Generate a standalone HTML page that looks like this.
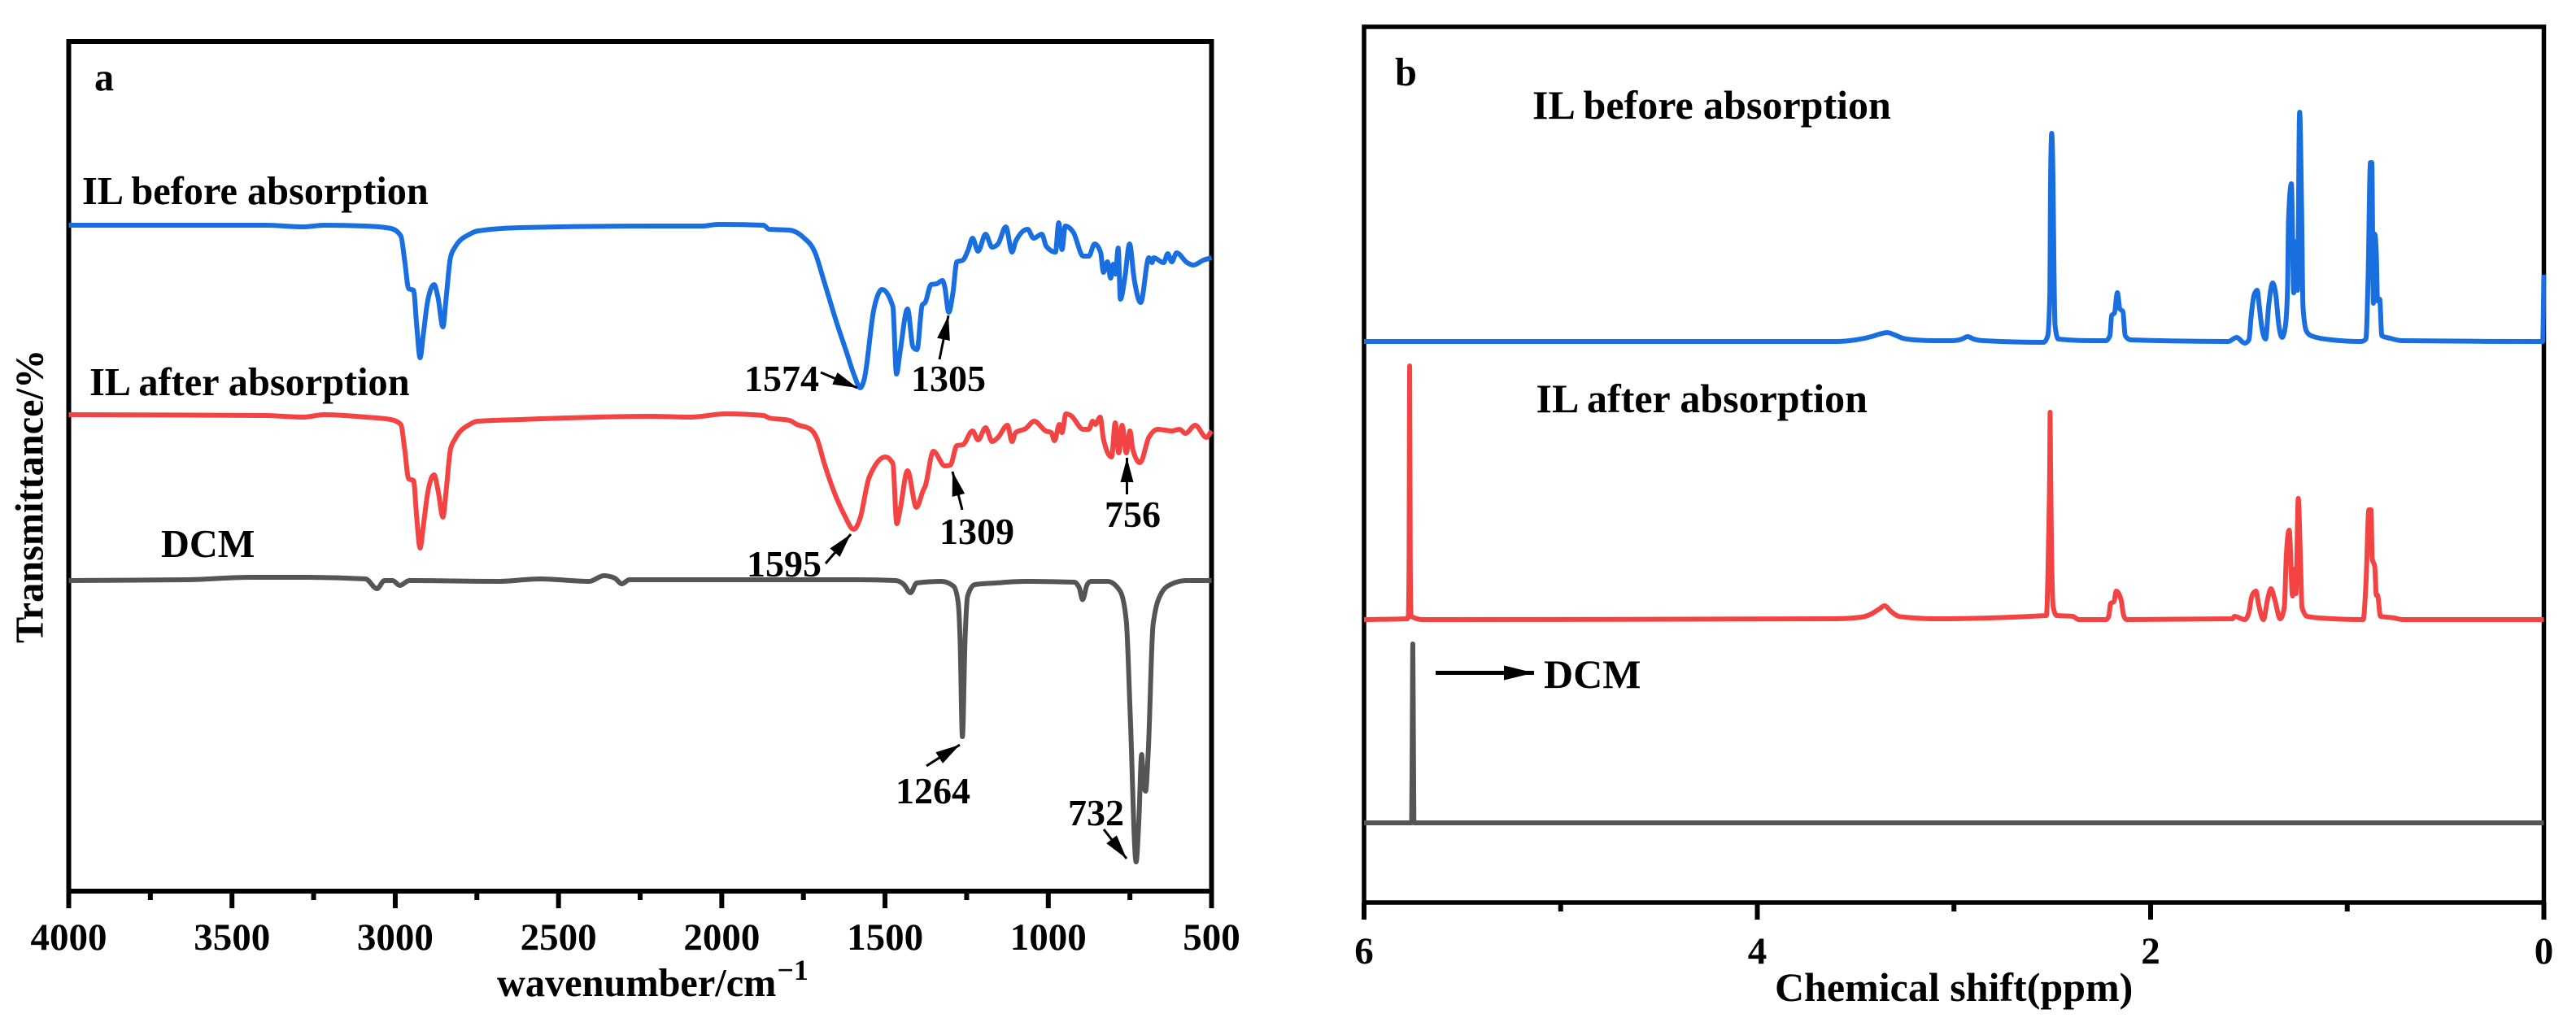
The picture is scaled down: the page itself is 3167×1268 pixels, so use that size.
<!DOCTYPE html>
<html lang="en">
<head>
<meta charset="utf-8">
<title>FTIR and NMR spectra</title>
<style>
html,body{margin:0;padding:0;background:#fff;}
svg{display:block;}
text{font-family:"Liberation Serif",serif;font-weight:bold;fill:#000;}
.tk{font-size:47px;text-anchor:middle;}
.num{font-size:46px;}
.lab{font-size:48.3px;}
.labb{font-size:50px;}
.arr{stroke:#000;stroke-width:3;fill:none;marker-end:url(#head);}
</style>
</head>
<body>
<svg id="fig" xmlns="http://www.w3.org/2000/svg" width="3167" height="1268" viewBox="0 0 3167 1268">
<defs>
<marker id="head" markerUnits="userSpaceOnUse" markerWidth="32" markerHeight="18" refX="30" refY="9" orient="auto"><path d="M0 1L30 9L0 17Z" fill="#000"/></marker>
<marker id="head2" markerUnits="userSpaceOnUse" markerWidth="38" markerHeight="20" refX="37" refY="10" orient="auto"><path d="M0 1L37 10L0 19Z" fill="#000"/></marker>
</defs>
<rect width="3167" height="1268" fill="#fff"/>

<g id="panelA">
<rect x="84.5" y="51" width="1405" height="1045" fill="none" stroke="#000" stroke-width="6"/>
<g id="axisA"></g>
<g id="seriesA"></g>
<text class="lab" x="116" y="111">a</text>
<text class="lab" x="101" y="251">IL before absorption</text>
<text class="lab" x="110" y="486">IL after absorption</text>
<text class="lab" x="198" y="685">DCM</text>
<text class="lab" x="611" y="1225">wavenumber/cm<tspan font-size="36" dx="1" dy="-20">−1</tspan></text>
<text class="lab" transform="translate(52.5 791) rotate(-90)">Transmittance/%</text>
<text class="num" x="915" y="481">1574</text>
<text class="num" x="1120" y="481">1305</text>
<text class="num" x="1155" y="669">1309</text>
<text class="num" x="1358" y="648">756</text>
<text class="num" x="918" y="709">1595</text>
<text class="num" x="1101" y="988">1264</text>
<text class="num" x="1313" y="1015">732</text>
<line class="arr" x1="1009" y1="458" x2="1054" y2="477"/>
<line class="arr" x1="1155" y1="442" x2="1166" y2="388"/>
<line class="arr" x1="1183" y1="627" x2="1171" y2="580"/>
<line class="arr" x1="1385.5" y1="608" x2="1385.5" y2="563"/>
<line class="arr" x1="1015" y1="693" x2="1046" y2="657"/>
<line class="arr" x1="1139" y1="942" x2="1180" y2="916"/>
<line class="arr" x1="1357" y1="1020" x2="1385" y2="1056"/>
</g>

<g id="panelB">
<rect x="1677" y="33" width="1450.5" height="1077" fill="none" stroke="#000" stroke-width="5.5"/>
<g id="axisB"></g>
<g id="seriesB"></g>
<text class="lab" x="1715" y="105">b</text>
<text class="labb" x="1884" y="146">IL before absorption</text>
<text class="labb" x="1888.5" y="507">IL after absorption</text>
<text class="labb" x="1898" y="846">DCM</text>
<line x1="1765" y1="827.5" x2="1886" y2="827.5" stroke="#000" stroke-width="5" style="marker-end:url(#head2)"/>
<text class="labb" x="2182" y="1231">Chemical shift(ppm)</text>
</g>
</svg>

<script>
// FTIR axis labels
const irMajorTicks = [4000, 3500, 3000, 2500, 2000, 1500, 1000, 500];
const irMinorTicks = [3750, 3250, 2750, 2250, 1750, 1250, 750];

// FTIR: wavenumber (cm-1) and stacked transmittance (a.u.)
const irBeforeWave = [4000,3397,3282,3218,3091,3013,2983,2971,2959,2944,2934,2924,2914,2901,2881,2869,2854,2844,2831,2817,2772,2747,2620,2216,2059,2012,1872,1855,1793,1750,1715,1686,1648,1618,1593,1576,1564,1534,1509,1476,1465,1454,1431,1414,1402,1386,1377,1359,1342,1324,1317,1305,1292,1280,1262,1245,1232,1215,1192,1172,1154,1130,1111,1100,1063,1045,1020,1006,978,968,958,948,923,893,876,858,840,831,819,809,801,794,786,779,766,751,737,717,692,682,677,647,634,622,607,575,556,525,500];
const irBeforeValue = [819,819,817,819,818,815,806,775,741,739,694,656,685,725,746,730,694,730,779,792,808,812,816,818,818,820,819,814,813,804,786,749,699,663,633,619,629,716,740,719,636,663,716,669,666,721,724,746,747,751,743,712,736,774,776,789,803,787,808,792,796,817,786,799,814,803,808,793,786,822,789,818,810,781,781,796,786,761,774,754,771,759,791,728,753,796,753,724,779,773,779,773,784,774,785,773,770,776,779];

const irAfterWave = [4000,3397,3282,3218,3091,3013,2983,2971,2959,2944,2934,2924,2914,2901,2881,2869,2854,2844,2831,2817,2772,2747,2620,2216,2097,1987,1872,1855,1793,1770,1728,1708,1686,1648,1625,1596,1576,1551,1534,1499,1476,1464,1454,1431,1404,1383,1377,1352,1317,1300,1280,1262,1232,1215,1192,1172,1154,1125,1111,1100,1069,1043,1008,991,981,966,958,946,931,893,876,864,856,841,831,806,795,784,774,761,750,741,719,692,664,622,598,580,550,516,500];
const irAfterValue = [586,585,583,586,583,580,574,543,507,505,458,422,449,489,512,493,460,493,543,556,574,578,580,584,583,587,585,582,579,574,568,556,526,483,463,445,459,506,521,534,526,452,469,517,472,493,498,541,523,524,548,549,566,555,570,553,558,573,553,564,569,578,566,564,554,574,564,587,585,568,568,578,574,583,556,534,576,539,573,539,566,543,527,558,568,566,568,563,573,558,566];

const irDcmWave = [4000,3636,3447,3282,3091,3056,3033,3008,2986,2957,2685,2557,2406,2361,2328,2306,2283,2216,1581,1467,1442,1422,1403,1327,1290,1276,1270,1263,1255,1247,1225,1161,1073,921,905,895,881,869,819,780,761,749,731,723,714,708,702,694,679,653,621,577,500];
const irDcmValue = [382,383,386,386,384,372,382,382,376,382,381,384,381,388,385,378,383,383,383,382,377,367,379,381,375,355,308,190,308,363,377,379,381,380,373,358.5,377,381,381,369,332,217,36,83,168,131,123,170,328,367,378,382,382];

// NMR axis labels
const nmrMajorTicks = [6, 4, 2, 0];
const nmrMinorTicks = [5, 3, 1];

// NMR: chemical shift (ppm) and stacked intensity (a.u.)
const nmrBeforePpm = [6,3.6,3.5,3.42,3.38,3.34,3.3,3.26,3.2,3.1,3.01,2.96,2.93,2.9,2.85,2.544,2.523,2.512,2.509,2.503,2.496,2.492,2.486,2.47,2.3,2.228,2.207,2.198,2.184,2.169,2.156,2.141,2.129,2.101,1.605,1.563,1.521,1.5,1.489,1.474,1.458,1.447,1.436,1.415,1.4,1.379,1.363,1.348,1.331,1.314,1.303,1.299,1.284,1.272,1.263,1.253,1.242,1.232,1.225,1.208,1.183,1.078,0.93,0.905,0.894,0.882,0.875,0.867,0.86,0.852,0.846,0.835,0.824,0.782,0.719,0.022,0.006,0];
const nmrBeforeValue = [690,690,692,696,699,701,698,694,692,691,691,693,696,693,691,689,697,753,883,946,883,793,710,693,691,691,697,722,725,750,730,727,697,692,690,695,688,692,720,747,753,733,710,693,733,762,747,710,695,710,760,837,884,750,813,753,972,853,733,703,697,692,690,693,768,910,910,737,822,797,740,742,697,694,691,690,690,772];

const nmrAfterPpm = [6,5.78,5.775,5.771,5.768,5.765,5.761,5.7,3.6,3.47,3.42,3.38,3.353,3.32,3.28,3.2,3.1,2.53,2.519,2.513,2.511,2.509,2.504,2.495,2.478,2.397,2.365,2.228,2.213,2.203,2.186,2.175,2.15,2.137,2.122,1.584,1.574,1.521,1.5,1.485,1.464,1.451,1.426,1.405,1.388,1.369,1.341,1.32,1.31,1.295,1.278,1.268,1.261,1.249,1.238,1.23,1.204,1.141,0.919,0.904,0.89,0.879,0.873,0.86,0.852,0.846,0.831,0.761,0.719,0];
const nmrAfterValue = [348,349,352,420,660,420,352,348,349,351,355,361,365,358,352,350,349,353,443,538,603,540,437,363,353,352,348,348,352,368,370,383,372,353,348,349,352,348,357,377,383,367,348,373,386,373,349,363,425,458,377,410,380,497,423,363,352,350,348,397,483,483,423,413,378,378,352,350,348,348];

const nmrDcmPpm = [6,5.77,5.758,5.755,5.752,5.749,5.746,0];
const nmrDcmValue = [98,98,98,200,318,200,98,98];

const SVGNS = 'http://www.w3.org/2000/svg';
const irX = w => 84.5 + (4000 - w) * 1405 / 3500;
const irY = v => 1096 - v * 1045 / 1045;
const nmrX = p => 1677 + (6 - p) * 1450.5 / 6;
const nmrY = v => 1110 - v * 1077 / 1077;

// Monotone cubic path through the points (no overshoot on sharp bands)
function smoothPath(px, py) {
  const n = px.length;
  const h = [], s = [], t = new Array(n);
  for (let i = 0; i < n - 1; i++) {
    h[i] = Math.max(px[i + 1] - px[i], 0.01);
    s[i] = (py[i + 1] - py[i]) / h[i];
  }
  for (let i = 1; i < n - 1; i++) {
    const p = (s[i - 1] * h[i] + s[i] * h[i - 1]) / (h[i - 1] + h[i]);
    const sg = (Math.sign(s[i - 1]) + Math.sign(s[i]));
    t[i] = sg * Math.min(Math.abs(s[i - 1]), Math.abs(s[i]), 0.5 * Math.abs(p));
  }
  t[0] = s[0];
  t[n - 1] = s[n - 2];
  let d = 'M' + px[0].toFixed(2) + ' ' + py[0].toFixed(2);
  for (let i = 0; i < n - 1; i++) {
    const c = h[i] / 3;
    d += 'C' + (px[i] + c).toFixed(2) + ' ' + (py[i] + c * t[i]).toFixed(2) + ' ' +
         (px[i + 1] - c).toFixed(2) + ' ' + (py[i + 1] - c * t[i + 1]).toFixed(2) + ' ' +
         px[i + 1].toFixed(2) + ' ' + py[i + 1].toFixed(2);
  }
  return d;
}

function drawLine(parent, xs, ys, fx, fy, color, width) {
  const el = document.createElementNS(SVGNS, 'path');
  el.setAttribute('d', smoothPath(xs.map(fx), ys.map(fy)));
  el.setAttribute('fill', 'none');
  el.setAttribute('stroke', color);
  el.setAttribute('stroke-width', width);
  el.setAttribute('stroke-linejoin', 'round');
  parent.appendChild(el);
  return el;
}

function drawTick(parent, x, y0, y1) {
  const t = document.createElementNS(SVGNS, 'line');
  t.setAttribute('x1', x);
  t.setAttribute('x2', x);
  t.setAttribute('y1', y0);
  t.setAttribute('y2', y1);
  t.setAttribute('stroke', '#000');
  t.setAttribute('stroke-width', 6);
  parent.appendChild(t);
  return t;
}

function drawTickLabel(parent, x, y, str) {
  const t = document.createElementNS(SVGNS, 'text');
  t.setAttribute('class', 'tk');
  t.setAttribute('x', x);
  t.setAttribute('y', y);
  t.textContent = str;
  parent.appendChild(t);
  return t;
}

const axisA = document.getElementById('axisA');
irMajorTicks.forEach(w => {
  const tick = drawTick(axisA, irX(w), 1096, 1117);
  
  
  const label = drawTickLabel(axisA, irX(w), 1168, String(w));
  
  
});
irMinorTicks.forEach(w => {
  const tick = drawTick(axisA, irX(w), 1096, 1107);
  
  
});

const axisB = document.getElementById('axisB');
nmrMajorTicks.forEach(p => {
  const tick = drawTick(axisB, nmrX(p), 1110, 1131);
  
  
  const label = drawTickLabel(axisB, nmrX(p), 1185, String(p));
  
  
});
nmrMinorTicks.forEach(p => {
  const tick = drawTick(axisB, nmrX(p), 1110, 1121);
  
  
});

const seriesA = document.getElementById('seriesA');
const irBeforeLine = drawLine(seriesA, irBeforeWave, irBeforeValue, irX, irY, '#1a6fe0', 6);


const irAfterLine = drawLine(seriesA, irAfterWave, irAfterValue, irX, irY, '#f34343', 6);


const irDcmLine = drawLine(seriesA, irDcmWave, irDcmValue, irX, irY, '#555555', 6);



const seriesB = document.getElementById('seriesB');
const nmrBeforeLine = drawLine(seriesB, nmrBeforePpm, nmrBeforeValue, nmrX, nmrY, '#1a6fe0', 6);


const nmrAfterLine = drawLine(seriesB, nmrAfterPpm, nmrAfterValue, nmrX, nmrY, '#f34343', 6);


const nmrDcmLine = drawLine(seriesB, nmrDcmPpm, nmrDcmValue, nmrX, nmrY, '#555555', 6);


</script>
</body>
</html>
